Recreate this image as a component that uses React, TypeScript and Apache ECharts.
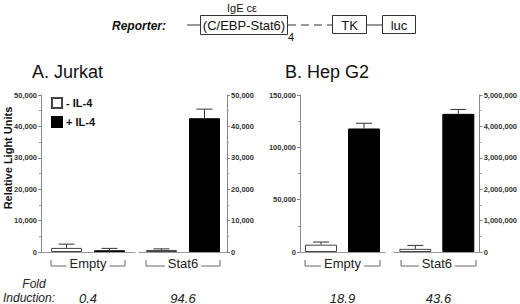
import React, { useEffect, useRef } from "react";
import * as echarts from "echarts";

// ---- data ----
const categories = ["Empty", "Stat6"];
const seriesNames = ["- IL-4", "+ IL-4"];
const panelTitles = ["A. Jurkat", "B. Hep G2"];
// Jurkat (left axis: Empty, right axis: Stat6)
const jurkatMinus = [1300, 650];
const jurkatMinusErr = [1200, 350];
const jurkatPlus = [550, 42600];
const jurkatPlusErr = [600, 2900];
// Hep G2 (left axis: Empty, right axis: Stat6)
const hepMinus = [7000, 100000];
const hepMinusErr = [2500, 110000];
const hepPlus = [118000, 4400000];
const hepPlusErr = [5000, 140000];
// axes
const axisMax = [50000, 50000, 150000, 5000000];
const axisInterval = [10000, 10000, 50000, 1000000];
const foldInduction = ["0.4", "94.6", "18.9", "43.6"];

const FONT = "'Liberation Sans', Arial, Helvetica, sans-serif";

export default function App() {
  const ref = useRef<HTMLDivElement>(null);
  useEffect(() => {
    if (!ref.current) return;
    const chart = echarts.init(ref.current, null, { renderer: "svg" });

    const gridLeft = [41, 139, 300, 394];
    const gridRight = [135, 227, 385, 483];
    const barW = [31, 31, 32, 32];
    const gap = [12, 12, 11, 11];
    const top = 95;
    const bottom = 252;

    const minus = [jurkatMinus[0], jurkatMinus[1], hepMinus[0], hepMinus[1]];
    const minusErr = [jurkatMinusErr[0], jurkatMinusErr[1], hepMinusErr[0], hepMinusErr[1]];
    const plus = [jurkatPlus[0], jurkatPlus[1], hepPlus[0], hepPlus[1]];
    const plusErr = [jurkatPlusErr[0], jurkatPlusErr[1], hepPlusErr[0], hepPlusErr[1]];

    const grids = gridLeft.map((l, i) => ({
      left: l,
      width: gridRight[i] - l,
      top,
      height: bottom - top,
      containLabel: false,
    }));

    const xAxes = gridLeft.map((_, i) => ({
      type: "category",
      gridIndex: i,
      data: [categories[i % 2]],
      axisLine: { show: true, lineStyle: { color: "#999", width: 1 } },
      axisTick: { show: false },
      axisLabel: {
        fontSize: 13,
        color: "#222",
        fontFamily: FONT,
        margin: 5,
        backgroundColor: "#fff",
        padding: [0, 3],
      },
    }));

    const yAxes = gridLeft.map((_, i) => ({
      type: "value",
      gridIndex: i,
      position: i % 2 === 0 ? "left" : "right",
      min: 0,
      max: axisMax[i],
      interval: axisInterval[i],
      splitLine: { show: false },
      axisLine: { show: true, lineStyle: { color: "#888", width: 1 } },
      axisTick: { show: true, length: 3, lineStyle: { color: "#888" } },
      minorTick: { show: true, splitNumber: 2, length: 2, lineStyle: { color: "#999" } },
      axisLabel: {
        fontSize: 7.5,
        fontWeight: "bold",
        color: "#333",
        fontFamily: FONT,
        margin: 4,
        formatter: (v: number) => v.toLocaleString("en-US"),
      },
    }));

    const series: any[] = [];
    gridLeft.forEach((_, i) => {
      series.push({
        type: "bar",
        name: seriesNames[0],
        xAxisIndex: i,
        yAxisIndex: i,
        data: [minus[i]],
        barWidth: barW[i],
        barGap: (gap[i] / barW[i]) * 100 + "%",
        itemStyle: { color: "#fff", borderColor: "#444", borderWidth: 1 },
        silent: true,
      });
      series.push({
        type: "bar",
        name: seriesNames[1],
        xAxisIndex: i,
        yAxisIndex: i,
        data: [plus[i]],
        barWidth: barW[i],
        barGap: (gap[i] / barW[i]) * 100 + "%",
        itemStyle: { color: "#000", borderColor: "#000", borderWidth: 1 },
        silent: true,
      });
      const off = (barW[i] + gap[i]) / 2;
      series.push({
        type: "custom",
        xAxisIndex: i,
        yAxisIndex: i,
        z: 5,
        silent: true,
        data: [
          [0, minus[i], minusErr[i], -off],
          [0, plus[i], plusErr[i], off],
        ],
        renderItem: (params: any, api: any) => {
          const v = api.value(1);
          const e = api.value(2);
          const o = api.value(3);
          const b = api.coord([api.value(0), v]);
          const t = api.coord([api.value(0), v + e]);
          const cx = b[0] + o;
          const st = { stroke: "#333", lineWidth: 1 };
          return {
            type: "group",
            children: [
              { type: "line", shape: { x1: cx, y1: b[1], x2: cx, y2: t[1] }, style: st },
              { type: "line", shape: { x1: cx - 8, y1: t[1], x2: cx + 8, y2: t[1] }, style: st },
            ],
          };
        },
      });
    });

    const graphics: any[] = [];
    // brackets under category labels
    gridLeft.forEach((l, i) => {
      const c = (l + gridRight[i]) / 2;
      const half = barW[i] + gap[i] / 2;
      const x1 = c - half;
      const x2 = c + half;
      const st = { stroke: "#666", lineWidth: 1 };
      graphics.push({ type: "line", z: -1, shape: { x1, y1: 266, x2, y2: 266 }, style: st });
      graphics.push({ type: "line", z: -1, shape: { x1, y1: 260, x2: x1, y2: 266 }, style: st });
      graphics.push({ type: "line", z: -1, shape: { x1: x2, y1: 260, x2, y2: 266 }, style: st });
      graphics.push({
        type: "text",
        x: c,
        y: 298,
        style: {
          text: foldInduction[i],
          fontSize: 13,
          lineHeight: 12,
          fontStyle: "italic",
          fontFamily: FONT,
          fill: "#222",
          align: "center",
          verticalAlign: "middle",
        },
      });
    });
    // fold induction label
    graphics.push({
      type: "text",
      x: 34,
      y: 284,
      style: { text: "Fold", fontSize: 12, lineHeight: 12, fontStyle: "italic", fontFamily: FONT, fill: "#222", align: "center", verticalAlign: "middle" },
    });
    graphics.push({
      type: "text",
      x: 3,
      y: 298,
      style: { text: "Induction:", fontSize: 12, lineHeight: 12, fontStyle: "italic", fontFamily: FONT, fill: "#222", align: "left", verticalAlign: "middle" },
    });
    // titles
    graphics.push({
      type: "text",
      x: 32,
      y: 72,
      style: { text: panelTitles[0], fontSize: 18, fontFamily: FONT, fill: "#111", align: "left", verticalAlign: "middle" },
    });
    graphics.push({
      type: "text",
      x: 285,
      y: 72,
      style: { text: panelTitles[1], fontSize: 18, fontFamily: FONT, fill: "#111", align: "left", verticalAlign: "middle" },
    });
    // y axis name
    graphics.push({
      type: "text",
      x: 8,
      y: 158,
      rotation: Math.PI / 2,
      style: { text: "Relative Light Units", fontSize: 11, fontWeight: "bold", fontFamily: FONT, fill: "#111", align: "center", verticalAlign: "middle" },
    });
    // reporter diagram
    const dk = "#333";
    graphics.push({
      type: "text",
      x: 242,
      y: 8,
      style: { text: "IgE c\u03b5", fontSize: 11, fontFamily: FONT, fill: "#111", align: "center", verticalAlign: "middle" },
    });
    graphics.push({
      type: "text",
      x: 112,
      y: 26,
      style: { text: "Reporter:", fontSize: 12, fontWeight: "bold", fontStyle: "italic", fontFamily: FONT, fill: "#111", align: "left", verticalAlign: "middle" },
    });
    graphics.push({ type: "line", shape: { x1: 187, y1: 25, x2: 200, y2: 25 }, style: { stroke: dk, lineWidth: 1 } });
    graphics.push({ type: "rect", shape: { x: 200.5, y: 15.5, width: 87, height: 19 }, style: { fill: "none", stroke: dk, lineWidth: 1 } });
    graphics.push({
      type: "text",
      x: 244,
      y: 25,
      style: { text: "(C/EBP-Stat6)", fontSize: 13, fontFamily: FONT, fill: "#111", align: "center", verticalAlign: "middle" },
    });
    graphics.push({
      type: "text",
      x: 291,
      y: 37,
      style: { text: "4", fontSize: 11, fontFamily: FONT, fill: "#111", align: "center", verticalAlign: "middle" },
    });
    graphics.push({ type: "line", shape: { x1: 288, y1: 25, x2: 332, y2: 25 }, style: { stroke: dk, lineWidth: 1, lineDash: [8, 5] } });
    graphics.push({ type: "rect", shape: { x: 332.5, y: 15.5, width: 34, height: 18 }, style: { fill: "none", stroke: dk, lineWidth: 1 } });
    graphics.push({
      type: "text",
      x: 349.5,
      y: 25,
      style: { text: "TK", fontSize: 13, fontFamily: FONT, fill: "#111", align: "center", verticalAlign: "middle" },
    });
    graphics.push({ type: "line", shape: { x1: 367, y1: 25, x2: 382, y2: 25 }, style: { stroke: dk, lineWidth: 1 } });
    graphics.push({ type: "rect", shape: { x: 382.5, y: 15.5, width: 33, height: 18 }, style: { fill: "none", stroke: dk, lineWidth: 1 } });
    graphics.push({
      type: "text",
      x: 399,
      y: 25,
      style: { text: "luc", fontSize: 13, fontFamily: FONT, fill: "#111", align: "center", verticalAlign: "middle" },
    });

    chart.setOption({
      animation: false,
      backgroundColor: "#fff",
      textStyle: { fontFamily: FONT },
      grid: grids,
      xAxis: xAxes,
      yAxis: yAxes,
      legend: {
        data: seriesNames.map((n) => ({ name: n, icon: "rect" })),
        orient: "vertical",
        left: 51,
        top: 97,
        padding: 0,
        itemWidth: 10,
        itemHeight: 10,
        itemGap: 7,
        selectedMode: false,
        textStyle: { fontSize: 11, fontWeight: "bold", color: "#111", fontFamily: FONT, lineHeight: 10, padding: [0, 0, 0, -1] },
      },
      series,
      graphic: graphics,
    });

    return () => chart.dispose();
  }, []);

  return (
    <div
      ref={ref}
      style={{ position: "absolute", left: 0, top: 0, width: 520, height: 304, background: "#fff" }}
    />
  );
}
